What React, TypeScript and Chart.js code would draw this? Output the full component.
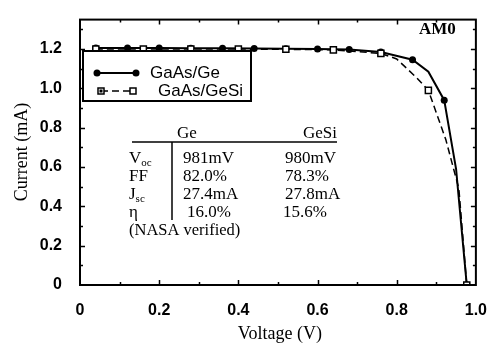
import React, { useEffect, useRef } from 'react';
import { Chart, registerables } from 'chart.js';
Chart.register(...registerables);

// ---- data ----
const geVoltage = [0.04, 0.12, 0.2, 0.28, 0.36, 0.44, 0.52, 0.6, 0.68, 0.76, 0.84, 0.88, 0.92, 0.95, 0.977];
const geCurrent = [1.205, 1.205, 1.205, 1.204, 1.204, 1.203, 1.202, 1.2, 1.198, 1.185, 1.146, 1.085, 0.94, 0.59, 0];
const geMarker = [1, 1, 1, 1, 1, 1, 1, 1, 1, 1, 1, 0, 1, 0, 1];

const gesiVoltage = [0.04, 0.16, 0.28, 0.4, 0.52, 0.64, 0.76, 0.8, 0.85, 0.88, 0.924, 0.957, 0.977];
const gesiCurrent = [1.2, 1.2, 1.2, 1.2, 1.199, 1.196, 1.178, 1.15, 1.055, 0.99, 0.74, 0.49, 0];
const gesiMarker = [1, 1, 1, 1, 1, 1, 1, 0, 0, 1, 0, 0, 1];

const seriesNames = ['GaAs/Ge', 'GaAs/GeSi'];
const xTickValues = [0, 0.2, 0.4, 0.6, 0.8, 1.0];
const yTickValues = [0, 0.2, 0.4, 0.6, 0.8, 1.0, 1.2];
const tableHeader = ['Ge', 'GeSi'];
const rowLabels = ['V', 'FF', 'J', 'η'];
const rowSubs = ['oc', '', 'sc', ''];
const geColumn = ['981mV', '82.0%', '27.4mA', '16.0%'];
const gesiColumn = ['980mV', '78.3%', '27.8mA', '15.6%'];
const tableNote = '(NASA verified)';
const cornerLabel = 'AM0';
const xTitle = 'Voltage (V)';
const yTitle = 'Current (mA)';

const SERIF = '"Liberation Serif", "Times New Roman", serif';
const SANS = '"Liberation Sans", Arial, sans-serif';

const decorPlugin = {
  id: 'decor',
  afterDraw(chart: any) {
    const ctx = chart.ctx as CanvasRenderingContext2D;
    const { left, right, top, bottom } = chart.chartArea;
    const xs = chart.scales.x;
    const ys = chart.scales.y;
    ctx.save();
    // frame
    ctx.strokeStyle = '#000';
    ctx.lineWidth = 2;
    ctx.strokeRect(left, top, right - left, bottom - top);
    // inward ticks
    ctx.lineWidth = 1.5;
    for (let i = 1; i < 10; i++) {
      const v = i / 10;
      const px = Math.round(xs.getPixelForValue(v)) + 0.5;
      const len = i % 2 === 0 ? 5 : 3;
      ctx.beginPath();
      ctx.moveTo(px, bottom); ctx.lineTo(px, bottom - len);
      ctx.moveTo(px, top); ctx.lineTo(px, top + len);
      ctx.stroke();
    }
    for (let i = 1; i <= 13; i++) {
      const v = i / 10;
      const py = Math.round(ys.getPixelForValue(v)) + 0.5;
      const len = i % 2 === 0 ? 5 : 3;
      ctx.beginPath();
      ctx.moveTo(left, py); ctx.lineTo(left + len, py);
      ctx.moveTo(right, py); ctx.lineTo(right - len, py);
      ctx.stroke();
    }

    // axis titles
    ctx.fillStyle = '#000';
    ctx.font = `18px ${SERIF}`;
    ctx.textAlign = 'center';
    ctx.textBaseline = 'middle';
    ctx.fillText(xTitle, (left + right) / 2 + 2, 334);
    ctx.save();
    ctx.translate(22, 152);
    ctx.rotate(-Math.PI / 2);
    ctx.fillText(yTitle, 0, 0);
    ctx.restore();

    // AM0
    ctx.font = `bold 17px ${SERIF}`;
    ctx.textAlign = 'left';
    ctx.textBaseline = 'alphabetic';
    ctx.fillText(cornerLabel, 419, 34);

    // legend box
    ctx.fillStyle = '#fff';
    ctx.fillRect(83, 51, 168, 50);
    ctx.lineWidth = 2;
    ctx.strokeRect(83, 51, 168, 50);
    // entry 1
    ctx.lineWidth = 2;
    ctx.strokeStyle = '#000';
    ctx.beginPath(); ctx.moveTo(97, 73); ctx.lineTo(136, 73); ctx.stroke();
    ctx.fillStyle = '#000';
    [97, 136].forEach((x) => { ctx.beginPath(); ctx.arc(x, 73, 3.5, 0, Math.PI * 2); ctx.fill(); });
    // entry 2
    ctx.lineWidth = 1.5;
    ctx.setLineDash([7, 4]);
    ctx.beginPath(); ctx.moveTo(101, 91); ctx.lineTo(133, 91); ctx.stroke();
    ctx.setLineDash([]);
    [101, 133].forEach((x) => {
      ctx.fillStyle = '#fff';
      ctx.fillRect(x - 3, 88, 6, 6);
      ctx.strokeRect(x - 3, 88, 6, 6);
    });
    ctx.fillStyle = '#000';
    ctx.fillRect(99.5, 89.5, 3, 3);
    ctx.font = `17px ${SANS}`;
    ctx.textBaseline = 'middle';
    ctx.fillText(seriesNames[0], 150, 73);
    ctx.fillText(seriesNames[1], 158, 91);

    // table
    ctx.textBaseline = 'alphabetic';
    ctx.font = `17px ${SERIF}`;
    ctx.textAlign = 'center';
    ctx.fillText(tableHeader[0], 187, 138);
    ctx.fillText(tableHeader[1], 320, 138);
    ctx.lineWidth = 1.5;
    ctx.beginPath(); ctx.moveTo(132, 142); ctx.lineTo(337, 142); ctx.stroke();
    ctx.beginPath(); ctx.moveTo(172, 142); ctx.lineTo(172, 220); ctx.stroke();
    ctx.textAlign = 'left';
    const baselines = [163, 181, 199, 217];
    rowLabels.forEach((lab, i) => {
      const yb = baselines[i];
      ctx.font = `17px ${SERIF}`;
      ctx.fillText(lab, 129, yb);
      const w = ctx.measureText(lab).width;
      if (rowSubs[i]) {
        ctx.font = `11px ${SERIF}`;
        ctx.fillText(rowSubs[i], 129 + w, yb + 3);
        ctx.font = `17px ${SERIF}`;
      }
      ctx.fillText(geColumn[i], i === 3 ? 187 : 183, yb);
      ctx.fillText(gesiColumn[i], i === 3 ? 283 : 285, yb);
    });
    ctx.font = `16.5px ${SERIF}`;
    ctx.fillText(tableNote, 129, 235);
    ctx.restore();
  },
};

function toPoints(xs: number[], ys: number[]) {
  return xs.map((x, i) => ({ x, y: ys[i] }));
}

export default function App() {
  const ref = useRef<HTMLCanvasElement | null>(null);
  useEffect(() => {
    document.body.style.margin = '0';
    const canvas = ref.current!;
    const chart = new Chart(canvas, {
      type: 'line',
      data: {
        datasets: [
          {
            label: seriesNames[1],
            data: toPoints(gesiVoltage, gesiCurrent),
            borderColor: '#000',
            borderWidth: 1.5,
            borderDash: [7, 4],
            pointStyle: 'rect',
            pointRadius: gesiMarker.map((m) => (m ? 4.3 : 0)),
            pointBackgroundColor: '#fff',
            pointBorderColor: '#000',
            pointBorderWidth: 1.5,
            tension: 0,
          },
          {
            label: seriesNames[0],
            data: toPoints(geVoltage, geCurrent),
            borderColor: '#000',
            borderWidth: 2,
            pointStyle: 'circle',
            pointRadius: geMarker.map((m) => (m ? 3.5 : 0)),
            pointBackgroundColor: '#000',
            pointBorderColor: '#000',
            pointBorderWidth: 0,
            tension: 0,
          },
        ],
      },
      options: {
        animation: false,
        responsive: false,
        maintainAspectRatio: false,
        layout: { padding: { top: 17, right: 18, left: 0, bottom: 0 } },
        plugins: { legend: { display: false }, tooltip: { enabled: false } },
        scales: {
          x: {
            type: 'linear',
            min: 0,
            max: 1,
            grid: { display: false },
            border: { display: false },
            afterBuildTicks: (s: any) => { s.ticks = xTickValues.map((v) => ({ value: v })); },
            afterFit: (s: any) => { s.height = 63; },
            ticks: {
              color: '#000',
              padding: 8,
              font: { family: SANS, size: 16, weight: 'bold' },
              callback: (v: any) => (v === 0 ? '0' : Number(v).toFixed(1)),
            },
          },
          y: {
            type: 'linear',
            min: 0,
            max: 1.35,
            grid: { display: false },
            border: { display: false },
            afterBuildTicks: (s: any) => { s.ticks = yTickValues.map((v) => ({ value: v })); },
            afterFit: (s: any) => { s.width = 80; },
            ticks: {
              color: '#000',
              padding: 10,
              font: { family: SANS, size: 16, weight: 'bold' },
              callback: (v: any) => (v === 0 ? '0' : Number(v).toFixed(1)),
            },
          },
        },
      },
      plugins: [decorPlugin],
    });
    return () => chart.destroy();
  }, []);
  return <canvas ref={ref} width={495} height={348} style={{ display: 'block' }} />;
}
